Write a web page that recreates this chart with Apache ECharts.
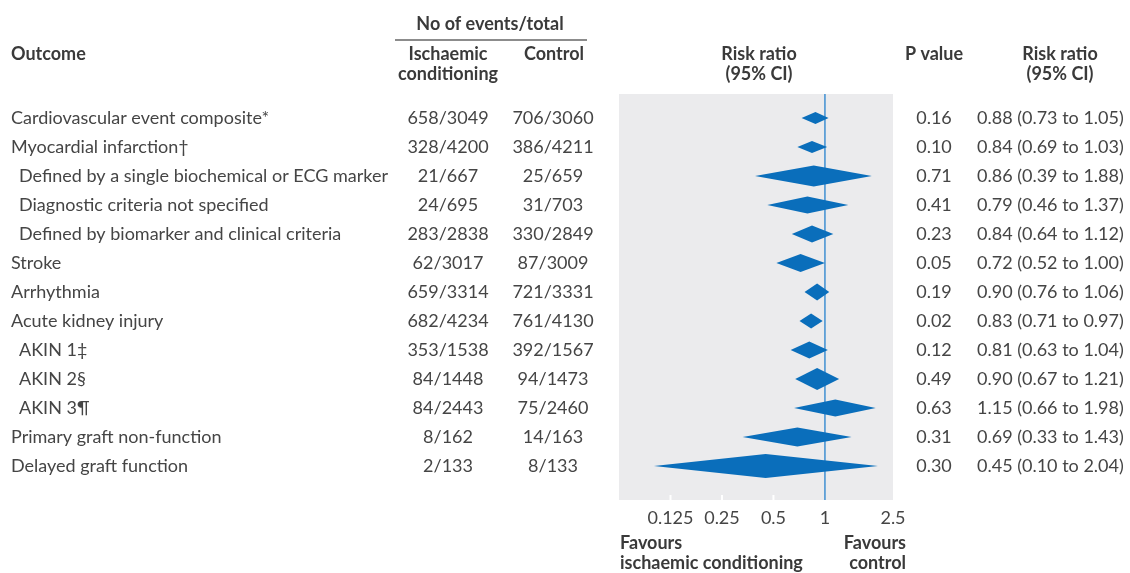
<!DOCTYPE html>
<html><head><meta charset="utf-8">
<script src="https://cdn.jsdelivr.net/npm/echarts@6/dist/echarts.min.js"></script>
<style>html,body{margin:0;padding:0;background:#fff}#c{width:1130px;height:573px}</style>
</head><body><div id="c"></div>
<script>
const outcomes = ['Cardiovascular event composite*','Myocardial infarction\u2020','Defined by a single biochemical or ECG marker','Diagnostic criteria not specified','Defined by biomarker and clinical criteria','Stroke','Arrhythmia','Acute kidney injury','AKIN 1\u2021','AKIN 2\u00a7','AKIN 3\u00b6','Primary graft non-function','Delayed graft function'];
const indentLevel = [0,0,1,1,1,0,0,0,1,1,1,0,0];
const ischEvents = [658,328,21,24,283,62,659,682,353,84,84,8,2];
const ischTotal = [3049,4200,667,695,2838,3017,3314,4234,1538,1448,2443,162,133];
const ctrlEvents = [706,386,25,31,330,87,721,761,392,94,75,14,8];
const ctrlTotal = [3060,4211,659,703,2849,3009,3331,4130,1567,1473,2460,163,133];
const pValues = ['0.16','0.10','0.71','0.41','0.23','0.05','0.19','0.02','0.12','0.49','0.63','0.31','0.30'];
const riskRatio = [0.88,0.84,0.86,0.79,0.84,0.72,0.90,0.83,0.81,0.90,1.15,0.69,0.45];
const ciLow = [0.73,0.69,0.39,0.46,0.64,0.52,0.76,0.71,0.63,0.67,0.66,0.33,0.10];
const ciHigh = [1.05,1.03,1.88,1.37,1.12,1.00,1.06,0.97,1.04,1.21,1.98,1.43,2.04];
const diamondHeight = [12,12,21,17,17,18,17,15,17,22,17,19,24];
const xTickLabels = [0.125,0.25,0.5,1,2.5];
const xTickMarks = [0.125,0.25,0.5];

const FONT = 'Lato';
const BODY = '#454545';
const HEAD = '#3a3a3a';
const Y_MIN = -0.8276, Y_MAX = 13.172;

const chart = echarts.init(document.getElementById('c'));
const rows = outcomes.map((o,i)=>i);

function txt(text,x,y,align,bold){
  return {type:'text',x:x,y:y,silent:true,style:{text:text,fill:bold?HEAD:BODY,font:(bold?'bold ':'')+'18px '+FONT,align:align,verticalAlign:'middle'}};
}

const option = {
  animation:false,
  grid:{left:619,right:237,top:94,bottom:73,show:true,backgroundColor:'#ebebed',borderWidth:0},
  xAxis:{type:'log',logBase:2,min:0.0625,max:2.5,position:'bottom',
    axisLine:{show:false,onZero:false},
    splitLine:{show:false},
    axisTick:{show:false},
    axisLabel:{show:true,customValues:xTickLabels,margin:9,color:BODY,fontFamily:FONT,fontSize:18,
      formatter:v=>String(+Number(v).toPrecision(4))}
  },
  yAxis:{type:'value',inverse:true,min:Y_MIN,max:Y_MAX,show:false},
  graphic:[
    txt('No of events/total',490,24,'center',true),
    {type:'line',silent:true,shape:{x1:395,y1:40,x2:587,y2:40},style:{stroke:'#666',lineWidth:1.5}},
    txt('Outcome',11,54,'left',true),
    txt('Ischaemic',448,54,'center',true),
    txt('conditioning',448,74,'center',true),
    txt('Control',554,54,'center',true),
    txt('Risk ratio',759,54,'center',true),
    txt('(95% CI)',759,74,'center',true),
    txt('P value',934,54,'center',true),
    txt('Risk ratio',1060,54,'center',true),
    txt('(95% CI)',1060,74,'center',true),
    txt('Favours',620,543,'left',true),
    txt('ischaemic conditioning',620,563,'left',true),
    txt('Favours',906,543,'right',true),
    txt('control',906,563,'right',true)
  ],
  series:[
    {type:'custom',z:1,silent:true,clip:false,data:xTickMarks.map(v=>[v,Y_MAX]),
      encode:{x:0,y:1},
      renderItem:(p,api)=>{
        const a=api.coord([api.value(0),Y_MAX]);
        return {type:'line',shape:{x1:a[0],y1:a[1],x2:a[0],y2:a[1]-5},style:{stroke:'#ffffff',lineWidth:2}};
      }},
    {type:'custom',z:1,silent:true,data:[[1,0]],
      renderItem:(p,api)=>{
        const a=api.coord([1,Y_MIN]), b=api.coord([1,Y_MAX]);
        return {type:'line',shape:{x1:a[0],y1:a[1],x2:b[0],y2:b[1]},style:{stroke:'#3f8fd2',lineWidth:1.5}};
      }},
    {type:'custom',z:2,silent:true,
      data:rows.map(i=>[riskRatio[i],i,ciLow[i],ciHigh[i],diamondHeight[i]]),
      encode:{x:0,y:1},
      renderItem:(p,api)=>{
        const row=api.value(1);
        const c=api.coord([api.value(0),row]);
        const l=api.coord([api.value(2),row]);
        const r=api.coord([api.value(3),row]);
        const h=api.value(4)/2;
        return {type:'polygon',shape:{points:[[l[0],c[1]],[c[0],c[1]-h],[r[0],c[1]],[c[0],c[1]+h]]},style:{fill:'#0a6ebb'}};
      }},
    {type:'custom',z:3,silent:true,clip:false,
      data:rows.map(i=>[1,i]),
      encode:{x:0,y:1},
      renderItem:(p,api)=>{
        const i=api.value(1);
        const y=api.coord([1,i])[1];
        const rrText=riskRatio[i].toFixed(2)+' ('+ciLow[i].toFixed(2)+' to '+ciHigh[i].toFixed(2)+')';
        return {type:'group',children:[
          txt(outcomes[i],11+indentLevel[i]*8,y,'left',false),
          txt(ischEvents[i]+'/'+ischTotal[i],448,y,'center',false),
          txt(ctrlEvents[i]+'/'+ctrlTotal[i],553,y,'center',false),
          txt(pValues[i],934,y,'center',false),
          txt(rrText,977,y,'left',false)
        ]};
      }}
  ]
};
chart.setOption(option);
</script></body></html>
